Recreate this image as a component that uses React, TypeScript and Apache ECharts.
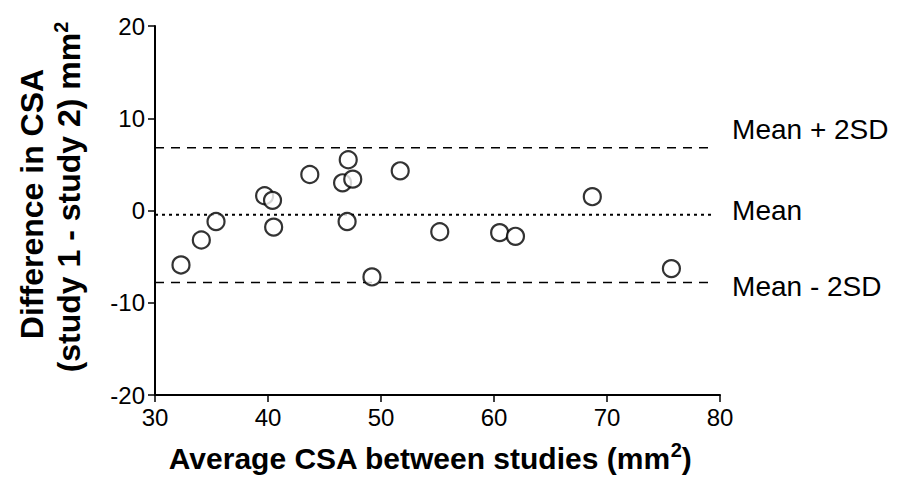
import React, { useEffect, useRef } from "react";
import * as echarts from "echarts";

const avgCSA = [32.3, 34.1, 35.4, 39.7, 40.4, 40.5, 43.7, 47.1, 46.6, 47.5, 47.0, 49.2, 51.7, 55.2, 60.5, 61.9, 68.7, 75.7];
const diffCSA = [-5.9, -3.2, -1.2, 1.6, 1.1, -1.8, 3.9, 5.5, 3.0, 3.4, -1.2, -7.2, 4.3, -2.3, -2.4, -2.8, 1.5, -6.3];
const meanDiff = -0.45;
const upperLimit = 6.8;
const lowerLimit = -7.8;
const lineStart = 30;
const lineEnd = 79.3;
const xTicks = [30, 40, 50, 60, 70, 80];
const yTicks = [-20, -10, 0, 10, 20];
const refLabels = ["Mean + 2SD", "Mean", "Mean - 2SD"];

export default function App() {
  const ref = useRef<HTMLDivElement>(null);
  useEffect(() => {
    if (!ref.current) return;
    const chart = echarts.init(ref.current, undefined, { renderer: "svg" });
    const font = "'Liberation Sans', Arial, sans-serif";
    const refLine = (v: number, name: string, type: any, width: number, dy: number) => ({
      type: "line",
      data: [[lineStart, v], [lineEnd, v]],
      symbol: "none",
      silent: true,
      lineStyle: { color: "#000", width, type },
      endLabel: {
        show: true,
        formatter: name,
        distance: 20,
        offset: [0, dy],
        color: "#000",
        fontFamily: font,
        fontSize: 28,
      },
      z: 1,
    });
    const supRich = (size: number) => ({
      b: { fontFamily: font, fontWeight: "bold", fontSize: size, fill: "#000" },
      s: { fontFamily: font, fontWeight: "bold", fontSize: 20, fill: "#000", verticalAlign: "top", padding: [0, 0, 16, 0] },
    });
    chart.setOption({
      animation: false,
      backgroundColor: "#fff",
      grid: { left: 155, right: 185, top: 26, bottom: 102 },
      xAxis: {
        type: "value",
        min: xTicks[0],
        max: xTicks[xTicks.length - 1],
        interval: 10,
        axisLine: { onZero: false, lineStyle: { color: "#000", width: 2 } },
        axisTick: { show: true, length: 7, lineStyle: { color: "#000", width: 1.5 } },
        axisLabel: { color: "#000", fontFamily: font, fontSize: 24, margin: 10 },
        splitLine: { show: false },
      },
      yAxis: {
        type: "value",
        min: yTicks[0],
        max: yTicks[yTicks.length - 1],
        interval: 10,
        axisLine: { show: true, onZero: false, lineStyle: { color: "#000", width: 2 } },
        axisTick: { show: true, length: 7, lineStyle: { color: "#000", width: 1.5 } },
        axisLabel: { color: "#000", fontFamily: font, fontSize: 24, margin: 10 },
        splitLine: { show: false },
      },
      graphic: [
        {
          type: "text",
          x: 430,
          y: 458,
          style: {
            text: "{b|Average CSA between studies (mm}{s|2}{b|)}",
            align: "center",
            verticalAlign: "middle",
            rich: supRich(30),
          },
        },
        {
          type: "text",
          x: 32,
          y: 204,
          rotation: Math.PI / 2,
          style: {
            text: "Difference in CSA",
            align: "center",
            verticalAlign: "middle",
            fontFamily: font,
            fontWeight: "bold",
            fontSize: 32,
            fill: "#000",
          },
        },
        {
          type: "text",
          x: 69,
          y: 197,
          rotation: Math.PI / 2,
          style: {
            text: "{b|(study 1 - study 2) mm}{s|2}",
            align: "center",
            verticalAlign: "middle",
            rich: supRich(32),
          },
        },
      ],
      series: [
        refLine(upperLimit, refLabels[0], [9, 7], 1.5, -18),
        refLine(meanDiff, refLabels[1], [3, 4], 2, -4),
        refLine(lowerLimit, refLabels[2], [9, 7], 1.5, 4),
        {
          type: "scatter",
          data: avgCSA.map((x, i) => [x, diffCSA[i]]),
          symbol: "circle",
          symbolSize: 17,
          itemStyle: { color: "#fff", borderColor: "#000", borderWidth: 2.2 },
          z: 3,
        },
      ],
    });
    return () => chart.dispose();
  }, []);
  return (
    <div
      ref={ref}
      style={{ position: "fixed", left: 0, top: 0, width: 905, height: 497 }}
    />
  );
}
